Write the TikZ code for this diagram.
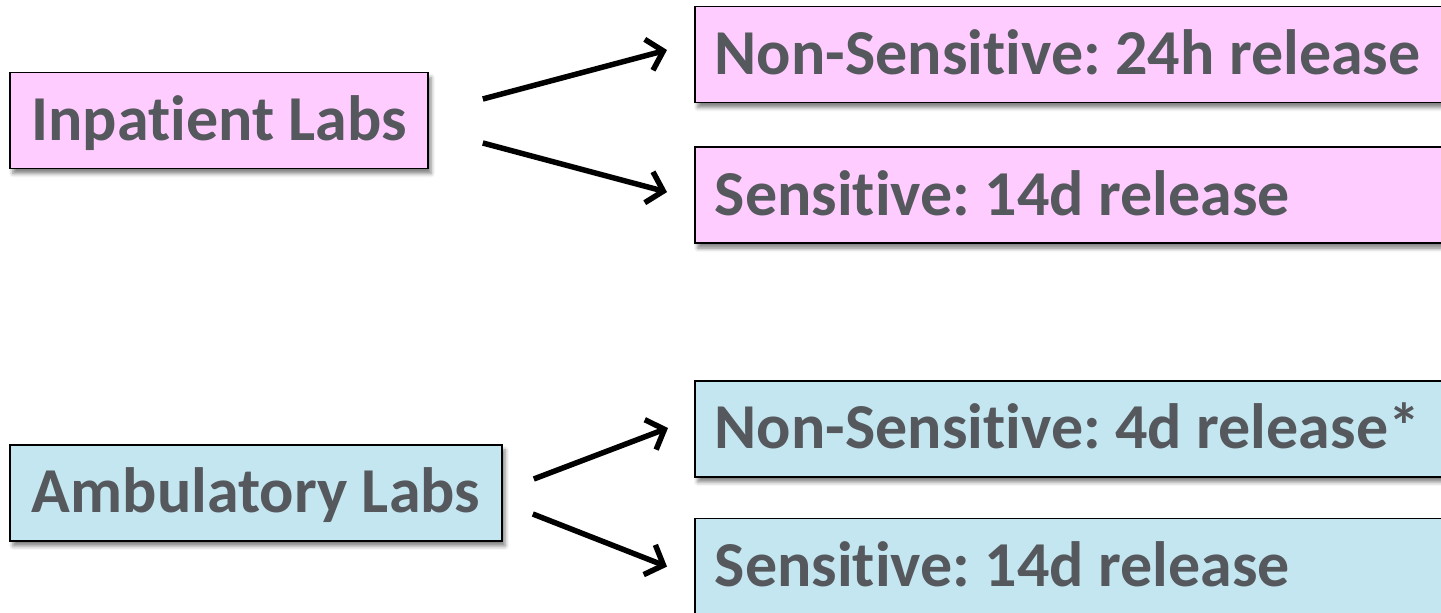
\documentclass[tikz,border=0pt]{standalone}
\usepackage{fontspec}
\setmainfont{Carlito}[Ligatures=NoCommon]
\usetikzlibrary{positioning,arrows.meta,shadows.blur}
\frenchspacing

\definecolor{labgray}{RGB}{85,88,92}
\definecolor{inpink}{RGB}{255,204,255}
\definecolor{ambblue}{RGB}{196,230,240}

\tikzset{
	labbox/.style={draw=black, line width=1.6pt, text=labgray,
		font=\fontsize{64}{70}\selectfont\bfseries,
		minimum height=96pt, text height=40pt, text depth=0pt, inner xsep=10pt,
		blur shadow={shadow xshift=3pt, shadow yshift=-5pt, shadow blur radius=4pt, shadow opacity=50}},
	rulebox/.style={labbox, text width=760pt, align=flush left, inner xsep=20pt, anchor=west},
	flow/.style={line width=5.5pt, -{Straight Barb[length=15pt, width=32pt]}},
}

\begin{document}
\begin{tikzpicture}[x=1pt, y=1pt]
	\useasboundingbox (0,0) rectangle (1441,613);
	\clip (0,0) rectangle (1441,613);

	% inpatient labs
	\node [labbox, fill=inpink, minimum width=418pt] (inp) at (219,492.5) {Inpatient Labs};
	\node [rulebox, fill=inpink] (inpns) at (694,558.5) {Non-Sensitive: 24h release};
	\node [rulebox, fill=inpink, below=43pt of inpns] (inps) {Sensitive: 14d release};

	% ambulatory labs
	\node [labbox, fill=ambblue, minimum width=492pt] (amb) at (256,120) {Ambulatory Labs};
	\node [rulebox, fill=ambblue] (ambns) at (694,184) {Non-Sensitive: 4d release*};
	\node [rulebox, fill=ambblue, below=40pt of ambns] (ambs) {Sensitive: 14d release};

	\draw [flow] ([xshift=54pt, yshift=21.5pt]inp.east) -- ([xshift=-27pt, yshift=4.5pt]inpns.west);
	\draw [flow] ([xshift=54pt, yshift=-22.5pt]inp.east) -- ([xshift=-27pt, yshift=3pt]inps.west);
	\draw [flow] ([xshift=31pt, yshift=14pt]amb.east) -- ([xshift=-26pt, yshift=1pt]ambns.west);
	\draw [flow] ([xshift=30pt, yshift=-21pt]amb.east) -- ([xshift=-27pt]ambs.west);
\end{tikzpicture}
\end{document}
